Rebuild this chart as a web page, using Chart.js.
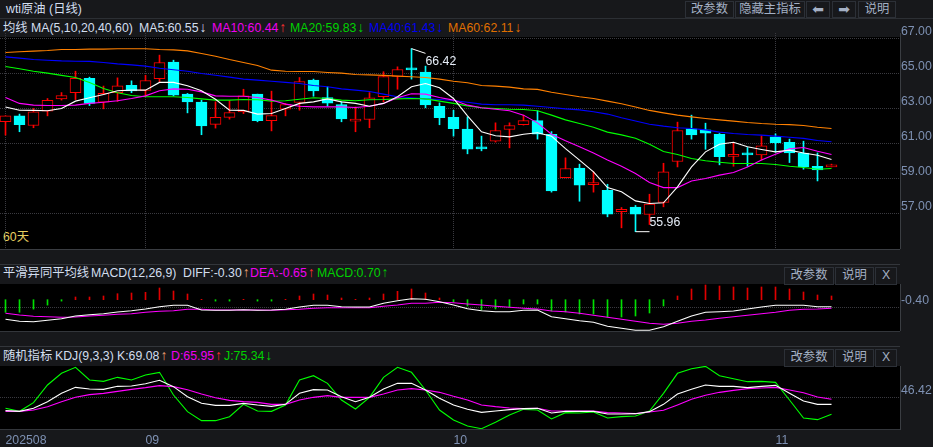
<!DOCTYPE html>
<html>
<head>
<meta charset="utf-8">
<title>wti原油 (日线)</title>
<script src="https://cdn.jsdelivr.net/npm/chart.js@4"></script>
<style>
  html, body { margin: 0; padding: 0; background: #17181b; overflow: hidden; }
  body { width: 933px; height: 447px; position: relative; font: 12.3px "Liberation Sans", "Noto Sans CJK SC", sans-serif; color: #d2deef; }
  .plot { position: absolute; left: 0; width: 900px; background: #000; }
  .rule { position: absolute; left: 0; width: 900px; height: 1px; background: #33363b; }
  canvas { position: absolute; left: 0; }
  .t { position: absolute; white-space: nowrap; line-height: 14px; }
  .btn { position: absolute; box-sizing: border-box; border: 1px solid #2c3037; color: #a4b0c4; text-align: center; line-height: 15px; background: #17181b; }
  .icon { font-family: "DejaVu Sans"; font-size: 14px; }
  .arrow { font-weight: normal; font-size: 14px; line-height: 12px; display: inline-block; width: 8px; margin-left: 1px; }
</style>
</head>
<body>
  <div class="plot" style="top:37px;height:212px"></div>
  <div class="plot" style="top:284px;height:47px"></div>
  <div class="plot" style="top:366px;height:63px"></div>
  <div class="rule" style="top:18px;width:933px;background:#2c2f34"></div>
  <div class="rule" style="top:249px;background:#3a3d42"></div>
  <div class="rule" style="top:264px"></div>
  <div class="rule" style="top:331px"></div>
  <div class="rule" style="top:346px"></div>
  <div class="rule" style="top:429px"></div>

  <span class="t" style="left:6px;top:2px">wti原油 (日线)</span>
  <span class="t" style="left:3px;top:21px">均线</span>
  <span class="t" style="left:31px;top:21px">MA(5,10,20,40,60)</span>
  <span class="t" style="left:139px;top:21px">MA5:60.55<b class="arrow">↓</b></span>
  <span class="t" style="left:212px;top:21px;color:#f000f0">MA10:60.44<b class="arrow" style="color:#ff3030">↑</b></span>
  <span class="t" style="left:290px;top:21px;color:#00d000">MA20:59.83<b class="arrow">↓</b></span>
  <span class="t" style="left:369px;top:21px;color:#0000f0">MA40:61.43<b class="arrow">↓</b></span>
  <span class="t" style="left:448px;top:21px;color:#e07000">MA60:62.11<b class="arrow">↓</b></span>
  <span class="t" style="left:3px;top:230px;color:#e8d060">60天</span>

  <span class="btn" style="left:685px;top:1px;width:49px;height:17px">改参数</span>
  <span class="btn" style="left:735px;top:1px;width:70px;height:17px">隐藏主指标</span>
  <span class="btn icon" style="left:806px;top:1px;width:24px;height:17px">⬅</span>
  <span class="btn icon" style="left:832px;top:1px;width:24px;height:17px">➡</span>
  <span class="btn" style="left:858px;top:1px;width:38px;height:17px">说明</span>

  <span class="t" style="left:3px;top:266px">平滑异同平均线</span>
  <span class="t" style="left:91px;top:266px">MACD(12,26,9)</span>
  <span class="t" style="left:183px;top:266px">DIFF:-0.30<b class="arrow" style="color:#e8a070">↑</b></span>
  <span class="t" style="left:250px;top:266px;color:#f000f0">DEA:-0.65<b class="arrow" style="color:#ff3030">↑</b></span>
  <span class="t" style="left:317px;top:266px;color:#00d000">MACD:0.70<b class="arrow">↑</b></span>
  <span class="btn" style="left:784px;top:267px;width:50px;height:18px">改参数</span>
  <span class="btn" style="left:835px;top:267px;width:39px;height:18px">说明</span>
  <span class="btn" style="left:875px;top:267px;width:22px;height:18px">X</span>

  <span class="t" style="left:3px;top:349px">随机指标</span>
  <span class="t" style="left:55px;top:349px">KDJ(9,3,3)</span>
  <span class="t" style="left:117px;top:349px">K:69.08<b class="arrow" style="color:#e8a070">↑</b></span>
  <span class="t" style="left:171px;top:349px;color:#f000f0">D:65.95<b class="arrow" style="color:#ff3030">↑</b></span>
  <span class="t" style="left:224px;top:349px;color:#00d000">J:75.34<b class="arrow">↓</b></span>
  <span class="btn" style="left:784px;top:349px;width:50px;height:18px">改参数</span>
  <span class="btn" style="left:835px;top:349px;width:39px;height:18px">说明</span>
  <span class="btn" style="left:875px;top:349px;width:22px;height:18px">X</span>

  <canvas id="main-chart" width="933" height="231" style="top:18px"></canvas>
  <canvas id="macd-chart" width="933" height="47" style="top:284px"></canvas>
  <canvas id="kdj-chart" width="933" height="81" style="top:366px"></canvas>

<script>
const opens = [62.24,62.58,62.03,62.85,63.55,63.91,64.73,63.36,63.91,64.33,64.03,64.71,65.65,63.82,63.36,62.09,62.49,62.81,63.82,62.31,62.96,63.34,64.62,63.63,63.23,62.28,62.37,63.67,64.83,65.25,65.08,63.13,62.5,61.82,60.73,61.13,61.8,62.07,62.31,61.53,59.04,59.59,58.64,58.33,57.11,57.36,56.94,57.63,59.97,61.84,61.78,61.53,60.26,60.39,60.35,61.38,61.07,60.45,59.7,59.66]
const highs = [62.58,62.68,63.0,63.57,63.91,65.13,64.79,64.28,64.75,64.58,64.9,66.05,65.76,63.86,63.48,63.38,63.45,64.1,63.82,63.99,63.29,64.77,64.68,64.24,63.38,63.09,63.91,65.1,65.38,66.42,65.42,63.32,62.9,62.52,61.42,62.18,62.18,62.62,62.87,61.68,60.18,59.82,59.38,58.67,57.34,57.46,58.1,59.87,62.22,62.62,62.16,61.57,61.04,60.77,61.44,61.55,61.25,61.13,60.46,59.82]
const lows = [61.48,61.67,61.9,62.58,63.48,63.51,63.17,62.98,63.4,63.9,63.7,64.52,63.72,62.75,61.5,61.88,62.39,62.71,62.24,61.72,62.58,62.9,63.7,63.13,62.24,61.67,61.9,63.38,64.1,64.68,63.04,62.07,61.42,60.41,60.58,61.08,60.75,62.05,61.25,58.22,59.04,57.7,58.22,56.81,56.18,55.96,56.37,57.38,59.66,61.25,60.67,59.78,59.7,59.7,60.05,60.5,59.91,59.53,58.86,59.66]
const closes = [62.58,62.07,62.81,63.46,63.74,64.73,63.29,63.86,64.3,64.01,64.6,65.63,63.76,63.38,62.01,62.49,62.77,63.72,62.3,62.6,63.23,64.54,64.01,63.3,62.41,62.31,63.61,64.83,65.23,65.21,63.21,62.47,61.84,60.68,60.69,61.74,62.03,62.31,61.53,58.29,59.57,58.62,58.77,56.96,57.23,56.96,57.53,59.38,61.74,61.49,61.59,60.24,60.37,60.35,60.86,61.04,60.46,59.66,59.49,59.7]
const ma5 = [63.09,62.9,62.89,62.87,63.0,63.42,63.61,63.8,64.01,64.05,64.05,64.49,64.49,64.3,64.01,63.53,62.9,62.89,62.68,62.71,63.0,63.29,63.38,63.55,63.38,63.29,63.13,63.29,63.67,64.24,64.43,64.18,63.57,62.58,61.67,61.44,61.38,61.53,61.61,61.42,60.71,60.05,59.38,58.48,58.24,57.72,57.57,57.61,58.52,59.66,60.52,60.96,61.07,60.81,60.66,60.52,60.62,60.46,60.33,60.08]
const ma10 = [63.63,63.29,63.19,63.17,63.17,63.19,63.29,63.36,63.44,63.57,63.72,64.01,64.12,64.1,63.95,63.72,63.7,63.7,63.63,63.48,63.25,63.13,63.09,63.09,63.09,63.06,63.13,63.29,63.61,63.84,63.82,63.63,63.48,63.19,63.04,62.96,62.87,62.62,62.18,61.53,61.15,60.81,60.46,60.05,59.7,59.28,58.77,58.48,58.48,58.86,59.0,59.19,59.34,59.66,60.05,60.39,60.69,60.77,60.56,60.37]
const ma20 = [65.4,65.27,65.13,65.02,64.89,64.77,64.49,64.14,63.9,63.74,63.67,63.67,63.67,63.63,63.55,63.48,63.48,63.51,63.5,63.42,63.44,63.53,63.61,63.57,63.48,63.44,63.5,63.51,63.55,63.57,63.55,63.42,63.29,63.15,63.04,63.0,62.96,62.94,62.87,62.62,62.35,62.14,61.93,61.65,61.49,61.3,60.96,60.54,60.37,60.14,60.01,59.93,59.86,59.86,59.86,59.8,59.7,59.63,59.53,59.57]
const ma40 = [65.95,65.88,65.8,65.76,65.72,65.7,65.69,65.63,65.55,65.49,65.42,65.3,65.21,65.13,65.0,64.9,64.79,64.68,64.62,64.56,64.49,64.43,64.31,64.24,64.12,64.05,63.97,63.82,63.67,63.61,63.55,63.51,63.46,63.36,63.25,63.21,63.21,63.19,63.13,63.06,62.98,62.92,62.81,62.68,62.47,62.28,62.1,61.99,61.9,61.86,61.78,61.65,61.57,61.51,61.48,61.42,61.36,61.29,61.17,61.1]
const ma60 = [66.2,66.24,66.28,66.31,66.37,66.37,66.39,66.39,66.41,66.41,66.41,66.37,66.35,66.29,66.14,65.99,65.8,65.63,65.46,65.19,65.13,65.11,65.11,65.06,65.02,64.94,64.92,64.89,64.85,64.81,64.77,64.68,64.56,64.47,64.31,64.28,64.22,64.12,64.09,63.93,63.8,63.67,63.57,63.42,63.27,63.09,62.89,62.75,62.62,62.52,62.43,62.35,62.28,62.2,62.14,62.1,62.08,62.03,61.93,61.86]
const macdHist = [-0.63,-0.63,-0.47,-0.27,-0.07,0.135,0.135,0.185,0.3,0.335,0.37,0.585,0.435,0.285,0.02,-0.07,-0.07,0.02,-0.07,-0.07,0.02,0.185,0.285,0.235,0.085,0.02,0.085,0.285,0.42,0.535,0.335,0.085,-0.115,-0.315,-0.515,-0.465,-0.365,-0.215,-0.215,-0.565,-0.615,-0.715,-0.715,-0.865,-0.865,-0.815,-0.665,-0.315,0.185,0.535,0.735,0.685,0.635,0.585,0.635,0.635,0.535,0.385,0.235,0.185]
const diffVals = [-0.98,-1.08,-1.1,-1.03,-0.95,-0.815,-0.75,-0.7,-0.615,-0.55,-0.465,-0.35,-0.28,-0.28,-0.515,-0.53,-0.53,-0.5,-0.53,-0.515,-0.48,-0.365,-0.28,-0.28,-0.35,-0.365,-0.365,-0.18,-0.05,0.05,0.02,-0.1,-0.265,-0.45,-0.55,-0.6,-0.6,-0.53,-0.515,-0.85,-0.95,-1.05,-1.13,-1.33,-1.43,-1.53,-1.53,-1.35,-1.08,-0.815,-0.63,-0.6,-0.565,-0.465,-0.365,-0.28,-0.28,-0.28,-0.35,-0.35]
const deaVals = [-0.68,-0.765,-0.83,-0.85,-0.88,-0.865,-0.815,-0.78,-0.73,-0.7,-0.63,-0.58,-0.55,-0.48,-0.48,-0.515,-0.515,-0.515,-0.515,-0.53,-0.5,-0.48,-0.43,-0.4,-0.4,-0.4,-0.4,-0.33,-0.265,-0.18,-0.18,-0.13,-0.15,-0.215,-0.265,-0.33,-0.38,-0.43,-0.465,-0.565,-0.6,-0.68,-0.78,-0.88,-0.98,-1.08,-1.18,-1.23,-1.18,-1.08,-1.015,-0.93,-0.85,-0.78,-0.7,-0.63,-0.53,-0.48,-0.465,-0.43]
const kVals = [24.66,23.57,28.47,39.35,52.95,62.74,60.02,59.48,64.37,64.92,68.72,74.16,63.83,47.51,36.63,33.36,33.36,36.63,33.91,31.73,35.0,52.95,58.93,58.39,47.51,39.35,46.42,60.02,69.27,69.27,58.39,44.79,33.91,26.84,21.94,24.12,26.29,27.92,28.47,20.85,23.57,23.57,23.57,19.22,19.22,19.76,23.03,35.0,51.86,59.48,66.55,64.37,64.37,62.2,64.37,66.0,52.95,40.44,35.0,35.0]
const dVals = [23.57,23.57,25.75,31.19,39.35,46.42,50.77,52.95,56.21,59.48,62.2,65.46,63.83,58.93,51.86,45.88,41.52,39.35,38.26,35.0,35.0,42.07,46.42,49.14,46.42,46.42,46.42,51.86,58.39,60.56,58.39,54.58,48.05,42.07,33.91,31.19,29.01,27.92,28.47,24.12,24.12,24.12,24.12,21.4,20.85,19.76,22.48,25.2,33.91,43.16,49.68,54.58,57.84,60.56,61.65,62.74,58.39,54.04,46.96,43.16]
const jVals = [28.47,23.57,37.72,66.55,85.59,95.38,74.71,72.53,79.06,74.71,82.87,87.22,50.23,23.03,8.34,8.34,14.87,35.0,24.12,23.57,33.91,74.71,81.78,69.27,42.07,27.38,46.42,79.06,95.38,87.22,58.39,25.75,9.43,-0.36,-4.72,5.62,17.59,26.84,25.75,11.06,21.4,20.85,22.48,12.69,14.87,15.96,24.12,52.95,85.59,93.2,97.01,81.78,76.88,71.99,72.53,70.9,42.07,12.69,9.97,18.68]

const priceTicks = [67, 65, 63, 61, 59, 57]
const macdTicks = [-0.4]
const kdjTicks = [46.42]
const monthTicks = [0, 10, 32, 55]
const monthLabels = ['202508', '09', '10', '11']
const highNote = { from: [29, 66.42], to: [30, 66.15], text: '66.42' }
const lowNote = { from: [45, 55.96], to: [46, 55.96], text: '55.96' }

const UP = '#ff0000'
const DOWN = '#00ffff'
const GRID = '#3a3a40'
const TICK = '#7e91b3'
const FONT = '"Liberation Sans", "Noto Sans CJK SC", sans-serif'

const days = closes.map((_, i) => i)
// index 0 sits at pixel 5.5 and one trading day is 14px, plot is 900px wide
const xMin = -5.5 / 14
const xMax = (900 - 5.5) / 14

const lineSet = (values, color, order) => ({
  type: 'line',
  data: days.map(i => ({ x: i, y: values[i] })),
  borderColor: color,
  borderWidth: 1.1,
  pointRadius: 0,
  tension: 0,
  order,
})

function xScale(height, showLabels, showGrid) {
  return {
    type: 'linear',
    min: xMin,
    max: xMax,
    offset: false,
    afterBuildTicks: (axis) => { axis.ticks = monthTicks.map(value => ({ value })) },
    afterFit: (axis) => { axis.height = height },
    border: { display: false, dash: [1, 1] },
    grid: { display: showGrid, offset: false, color: GRID, drawTicks: false },
    ticks: {
      display: showLabels,
      autoSkip: false,
      maxRotation: 0,
      align: 'start',
      padding: 4,
      color: TICK,
      font: { family: FONT, size: 12.3 },
      callback: (value) => monthLabels[monthTicks.indexOf(value)],
    },
  }
}

function yScale(min, max, ticks, digits) {
  return {
    position: 'right',
    min,
    max,
    afterBuildTicks: (axis) => { axis.ticks = ticks.map(value => ({ value })) },
    afterFit: (axis) => {
      axis.width = 33
      // no room for half a label at the ends, the plot has to fill the canvas
      axis.paddingTop = 0
      axis.paddingBottom = 0
    },
    border: { color: '#3a3d42', dash: [1, 1] },
    grid: { color: GRID, drawTicks: false },
    ticks: {
      padding: 1,
      labelOffset: -7,
      autoSkip: false,
      color: TICK,
      font: { family: FONT, size: 12.3 },
      callback: (value) => value.toFixed(digits),
    },
  }
}

const baseOptions = (x, y, top) => ({
  responsive: false,
  animation: false,
  devicePixelRatio: 1,
  events: [],
  layout: { padding: { top } },
  scales: { x, y },
  plugins: { legend: { display: false }, tooltip: { enabled: false } },
})

// high and low price notes next to their leader lines
const priceNotes = {
  id: 'priceNotes',
  afterDatasetsDraw(chart) {
    const { ctx, scales } = chart
    ctx.save()
    ctx.fillStyle = '#e6edf7'
    ctx.font = '12.3px ' + FONT
    ctx.textBaseline = 'middle'
    ctx.fillText(highNote.text, scales.x.getPixelForValue(highNote.to[0]), scales.y.getPixelForValue(highNote.to[1]) + 8.5)
    ctx.fillText(lowNote.text, scales.x.getPixelForValue(lowNote.to[0]), scales.y.getPixelForValue(lowNote.to[1]) - 9)
    ctx.restore()
  },
}

const noteLine = (note) => ({
  type: 'line',
  data: [{ x: note.from[0], y: note.from[1] }, { x: note.to[0], y: note.to[1] }],
  borderColor: '#ffffff',
  borderWidth: 1,
  pointRadius: 0,
  order: 0,
})

const candleColor = (i) => closes[i] >= opens[i] ? UP : DOWN

new Chart(document.getElementById('main-chart'), {
  type: 'bar',
  data: {
    datasets: [
      noteLine(highNote),
      noteLine(lowNote),
      lineSet(ma5, '#ffffff', 1),
      lineSet(ma10, '#ff00ff', 2),
      lineSet(ma20, '#00ff00', 3),
      lineSet(ma40, '#0000ff', 4),
      lineSet(ma60, '#ff8000', 5),
      {
        // bodies
        data: days.map(i => ({ x: i, y: [opens[i], closes[i]] })),
        barThickness: 11,
        grouped: false,
        minBarLength: 2,
        borderWidth: 1,
        borderSkipped: false,
        borderColor: days.map(candleColor),
        backgroundColor: days.map(i => closes[i] >= opens[i] ? '#000000' : DOWN),
        order: 6,
      },
      {
        // wicks
        data: days.map(i => ({ x: i, y: [lows[i], highs[i]] })),
        barThickness: 1,
        grouped: false,
        backgroundColor: days.map(candleColor),
        order: 7,
      },
    ],
  },
  options: baseOptions(xScale(0, false, true), yScale(54.97, 67.314, priceTicks, 2), 15),
  plugins: [priceNotes],
})

new Chart(document.getElementById('macd-chart'), {
  type: 'bar',
  data: {
    datasets: [
      lineSet(diffVals, '#ffffff', 1),
      lineSet(deaVals, '#ff00ff', 2),
      {
        data: days.map(i => ({ x: i, y: macdHist[i] })),
        barThickness: 1,
        grouped: false,
        backgroundColor: macdHist.map(v => v >= 0 ? '#e00000' : '#00e000'),
        order: 3,
      },
    ],
  },
  options: baseOptions({ ...xScale(0, false, false), display: false }, yScale(-1.565, 0.785, macdTicks, 2), 0),
})

new Chart(document.getElementById('kdj-chart'), {
  type: 'line',
  data: {
    datasets: [
      lineSet(jVals, '#00ff00', 3),
      lineSet(dVals, '#ff00ff', 2),
      lineSet(kVals, '#ffffff', 1),
    ],
  },
  options: baseOptions(xScale(18, true, false), yScale(-5.26, 97.56, kdjTicks, 2), 0),
})
</script>
</body>
</html>
